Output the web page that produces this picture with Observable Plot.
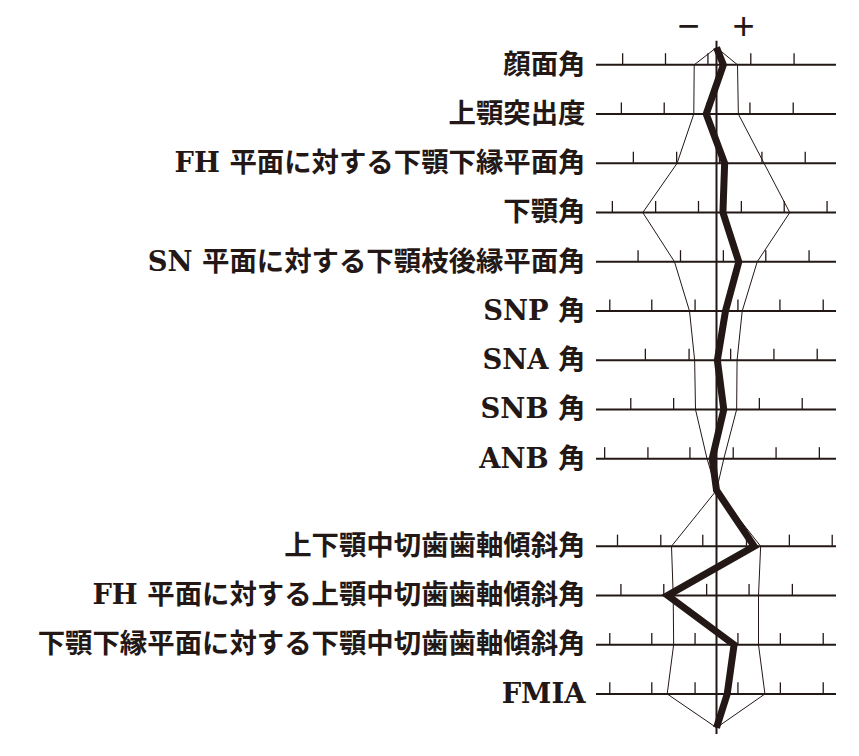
<!DOCTYPE html>
<html>
<head>
<meta charset="utf-8">
<script src="https://cdn.jsdelivr.net/npm/d3@7"></script>
<script src="https://cdn.jsdelivr.net/npm/@observablehq/plot@0.6"></script>
<style>
  html, body { margin: 0; padding: 0; background: #fff; }
</style>
</head>
<body>
<div id="chart"></div>
<script>
// ---- data (x in standard-deviation-like units, 0 = norm mean) ----
const rowLabels = [
  "顔面角",
  "上顎突出度",
  "FH 平面に対する下顎下縁平面角",
  "下顎角",
  "SN 平面に対する下顎枝後縁平面角",
  "SNP 角",
  "SNA 角",
  "SNB 角",
  "ANB 角",
  "上下顎中切歯歯軸傾斜角",
  "FH 平面に対する上顎中切歯歯軸傾斜角",
  "下顎下縁平面に対する下顎中切歯歯軸傾斜角",
  "FMIA"
];
const patientValues = [0.16, -0.24, 0.19, 0.15, 0.52, 0.21, 0.02, 0.17, -0.10, 0.88, -1.14, 0.41, 0.25];
const normLow  = [-0.52, -0.53, -0.92, -1.72, -0.98, -0.63, -0.51, -0.49, -0.22, -1.05, -1.01, -1.00, -1.15];
const normHigh = [ 0.49,  0.51,  1.11,  1.71,  0.95,  0.60,  0.48,  0.47,  0.17,  1.03,  0.98,  0.98,  1.13];
const tickPositions = [
  [-2.19, -1.19, -0.20, 0.80, 1.81],
  [-2.22, -1.22, -0.22, 0.78, 1.79],
  [-1.94, -0.93, 0.07, 1.06, 2.07],
  [-2.43, -1.42, -0.42, 0.58, 1.58, 2.58],
  [-1.83, -0.84, 0.16, 1.15, 2.16],
  [-2.49, -1.51, -0.50, 0.50, 1.48, 2.49],
  [-1.66, -0.64, 0.33, 1.34, 2.35],
  [-2.00, -1.00, 0.00, 1.00, 2.00],
  [-2.61, -1.60, -0.62, 0.39, 1.39, 2.40],
  [-2.31, -1.30, -0.32, 0.70, 1.70, 2.70],
  [-2.23, -1.23, -0.23, 0.76, 1.77],
  [-2.49, -1.51, -0.50, 0.50, 1.49, 2.49],
  [-2.49, -1.51, -0.50, 0.50, 1.49, 2.49]
];
const signLabels = ["−", "+"];
const signX = [-0.65, 0.63];

// ---- layout helpers ----
const INK = "#231815";
const GROUP_SPLIT = 9;        // rows after this index form the second block
const GROUP_GAP = 0.775;      // extra space between blocks (row units)
const rowY = i => (i < GROUP_SPLIT ? i : i + GROUP_GAP);
const apexY = -0.35, midY = 8.64, endY = 13.46;
const TICK = 0.225;

const rows = rowLabels.map((label, i) => ({
  label, y: rowY(i), value: patientValues[i], lo: normLow[i], hi: normHigh[i], i
}));
const upper = rows.slice(0, GROUP_SPLIT);
const lower = rows.slice(GROUP_SPLIT);

const thick = [
  {x: 0, y: apexY},
  ...upper.map(r => ({x: r.value, y: r.y})),
  {x: 0, y: midY},
  ...lower.map(r => ({x: r.value, y: r.y})),
  {x: 0, y: endY}
];

const envelope = [];
for (const side of ["lo", "hi"]) {
  envelope.push({x: 0, y: apexY, seg: side + "1"});
  upper.forEach(r => envelope.push({x: r[side], y: r.y, seg: side + "1"}));
  envelope.push({x: 0, y: midY, seg: side + "1"});
  envelope.push({x: 0, y: midY, seg: side + "2"});
  lower.forEach(r => envelope.push({x: r[side], y: r.y, seg: side + "2"}));
  envelope.push({x: 0, y: endY, seg: side + "2"});
}

const ticks = rows.flatMap(r => tickPositions[r.i].map(x => ({x, y1: r.y, y2: r.y - TICK})));
const labelByY = new Map(rows.map(r => [r.y, r.label]));
const signs = signLabels.map((s, i) => ({s, x: signX[i], y: -0.78}));

const chart = Plot.plot({
  width: 859,
  height: 756,
  marginLeft: 596,
  marginRight: 23,
  marginTop: 0,
  marginBottom: 0,
  style: {background: "#fff", color: INK},
  x: {domain: [-2.8, 2.8], axis: null},
  y: {domain: [-1.3056, 14.045], reverse: true, axis: null},
  marks: [
    Plot.ruleY(rows, {y: "y", stroke: INK, strokeWidth: 2}),
    Plot.ruleX(ticks, {x: "x", y1: "y1", y2: "y2", stroke: INK, strokeWidth: 1.3}),
    Plot.line(envelope, {x: "x", y: "y", z: "seg", stroke: INK, strokeWidth: 1}),
    Plot.ruleX([0], {y1: -0.48, y2: 13.6, stroke: INK, strokeWidth: 2}),
    Plot.line(thick, {x: "x", y: "y", stroke: INK, strokeWidth: 7,
      strokeLinejoin: "miter", strokeMiterlimit: 10, strokeLinecap: "butt"}),
    Plot.axisY({
      ticks: rows.map(r => r.y),
      tickFormat: y => labelByY.get(y),
      tickSize: 0,
      tickPadding: 11,
      label: null,
      fontSize: 27.4,
      fontWeight: "bold",
      fontFamily: '"DejaVu Serif", "Noto Sans CJK JP", serif',
      fill: INK
    }),
    Plot.text(signs, {x: "x", y: "y", text: "s", fontSize: 38,
      fontFamily: '"Liberation Sans", sans-serif', fill: INK})
  ]
});
document.getElementById("chart").appendChild(chart);
</script>
</body>
</html>
